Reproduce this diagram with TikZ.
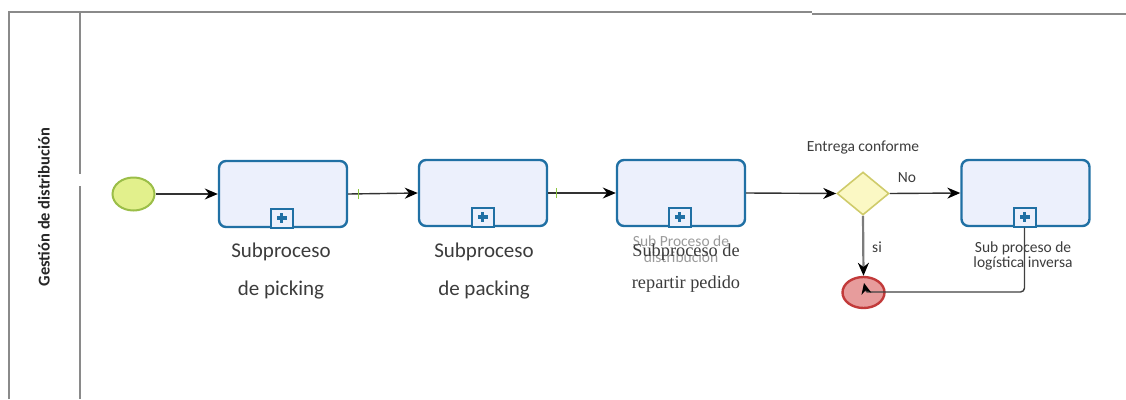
\documentclass[tikz,border=0pt]{standalone}
\usepackage{fontspec}
\setmainfont{Carlito}
\newfontfamily\serfont{Liberation Serif}
\usetikzlibrary{arrows.meta,shapes.geometric}
\definecolor{lanegray}{HTML}{8A8A8A}
\definecolor{taskfill}{HTML}{ECF0FC}
\definecolor{taskdraw}{HTML}{2070A4}
\definecolor{startfill}{HTML}{E2F08C}
\definecolor{startdraw}{HTML}{9BBE48}
\definecolor{endfill}{HTML}{E79C9C}
\definecolor{enddraw}{HTML}{C23A3A}
\definecolor{gwfill}{HTML}{FBF8C4}
\definecolor{gwdraw}{HTML}{CFCB6A}
\definecolor{txt}{HTML}{3C3C3C}
\definecolor{faint}{HTML}{9A9A9A}
\definecolor{tick}{HTML}{8CC63F}
\tikzset{
  lane/.style={draw=lanegray,line width=2pt},
  taskbox/.style={draw=taskdraw,fill=taskfill,line width=2.4pt,rounded corners=7pt,minimum width=128pt,minimum height=66pt,inner sep=0pt},
  marker/.style={draw=taskdraw,fill=taskfill,line width=2pt,minimum width=22pt,minimum height=19pt,inner sep=0pt},
  flow/.style={draw=black!80,line width=1.4pt,-{Stealth[length=13pt,width=11pt,color=black]}},
  biglab/.style={font=\fontsize{21}{21}\selectfont,text=txt},
  serlab/.style={font=\serfont\fontsize{18.3}{18.3}\selectfont,text=txt},
  smalllab/.style={font=\fontsize{15.5}{15.5}\selectfont,text=txt},
  fadelab/.style={font=\fontsize{15.5}{15.5}\selectfont,text=faint},
}
\newcommand{\plusmark}[1]{%
  \fill[taskdraw] ([xshift=-5pt,yshift=-1.7pt]#1.center) rectangle ([xshift=5pt,yshift=1.7pt]#1.center);
  \fill[taskdraw] ([xshift=-1.7pt,yshift=-5pt]#1.center) rectangle ([xshift=1.7pt,yshift=5pt]#1.center);}
\begin{document}
\begin{tikzpicture}[x=1pt,y=-1pt]
\useasboundingbox (0,0) rectangle (1126,399);
% pool and lane
\draw[lane] (9,399) -- (9,12) -- (812,12);
\draw[lane] (812,14) -- (1126,14);
\draw[lane] (80,12) -- (80,174);
\draw[lane] (80,186) -- (80,399);
\node[rotate=90,font=\bfseries\fontsize{16.5}{16.5}\selectfont,text=black!85] (lanelab) at (44,207) {Gestión de distribución};
% nodes
\node[ellipse,draw=startdraw,fill=startfill,line width=2pt,minimum width=42pt,minimum height=33pt,inner sep=0pt] (start) at (133.5,194) {};
\node[taskbox] (t1) at (283,194) {};
\node[taskbox] (t2) at (483,193) {};
\node[taskbox] (t3) at (681,193) {};
\node[taskbox] (t4) at (1025.5,193) {};
\node[marker] (m1) at (281.5,218) {};
\node[marker] (m2) at (482.5,217) {};
\node[marker] (m3) at (679.5,217) {};
\node[marker] (m4) at (1024.5,217) {};
\plusmark{m1}\plusmark{m2}\plusmark{m3}\plusmark{m4}
\node[diamond,draw=gwdraw,fill=gwfill,line width=1.6pt,minimum width=52pt,minimum height=43pt,inner sep=0pt] (gw) at (863,193.5) {};
\node[ellipse,draw=enddraw,fill=endfill,line width=2.4pt,minimum width=42pt,minimum height=31pt,inner sep=0pt] (end) at (863.5,292.5) {};
% labels
\node[biglab] (l1a) at (281,252) {Subproceso};
\node[biglab] (l1b) at (281,290) {de picking};
\node[biglab] (l2a) at (484,252) {Subproceso};
\node[biglab] (l2b) at (484,290) {de packing};
\node[fadelab] (l3a) at (681,241) {Sub Proceso de};
\node[fadelab] (l3b) at (681,257) {distribución};
\node[serlab] (l3c) at (686,252) {Subproceso de};
\node[serlab] (l3d) at (686,284) {repartir pedido};
\node[smalllab] (gwl) at (863,148) {Entrega conforme};
\node[smalllab] (nol) at (907,178) {No};
\node[smalllab] (sil) at (877,247) {si};
\node[smalllab] (l4a) at (1023,248) {Sub proceso de};
\node[smalllab] (l4b) at (1023,263) {logística inversa};
% connectors
\draw[flow] (start.east) -- (t1.west);
\draw[flow] (t1.east) -- (t2.west);
\draw[flow] (t2.east) -- (t3.west);
\draw[flow] (t3.east) -- (gw.west);
\draw[flow] (gw.east) -- (t4.west);
\draw[draw=lanegray!90!black,line width=2.2pt,-{Stealth[length=13pt,width=11pt,color=black]}] (gw.south) -- (end.north);
\coordinate (ret1) at (1024.5,292);
\coordinate (ret2) at (872,292);
\coordinate (ret3) at (864,283);
\draw[draw=black!75,line width=1.4pt,rounded corners=4pt] (m4.south) -- (ret1) -- (ret2);
\draw[draw=black!75,line width=1.4pt,-{Stealth[length=11pt,width=10pt,color=black]}] (ret2) .. controls (866,292) .. (ret3);
% green ticks
\draw[tick,line width=1.2pt] ([xshift=10pt,yshift=-5pt]t1.east) -- ([xshift=10pt,yshift=5pt]t1.east);
\draw[tick,line width=1.2pt] ([xshift=8pt,yshift=-5pt]t2.east) -- ([xshift=8pt,yshift=5pt]t2.east);
\end{tikzpicture}
\end{document}
